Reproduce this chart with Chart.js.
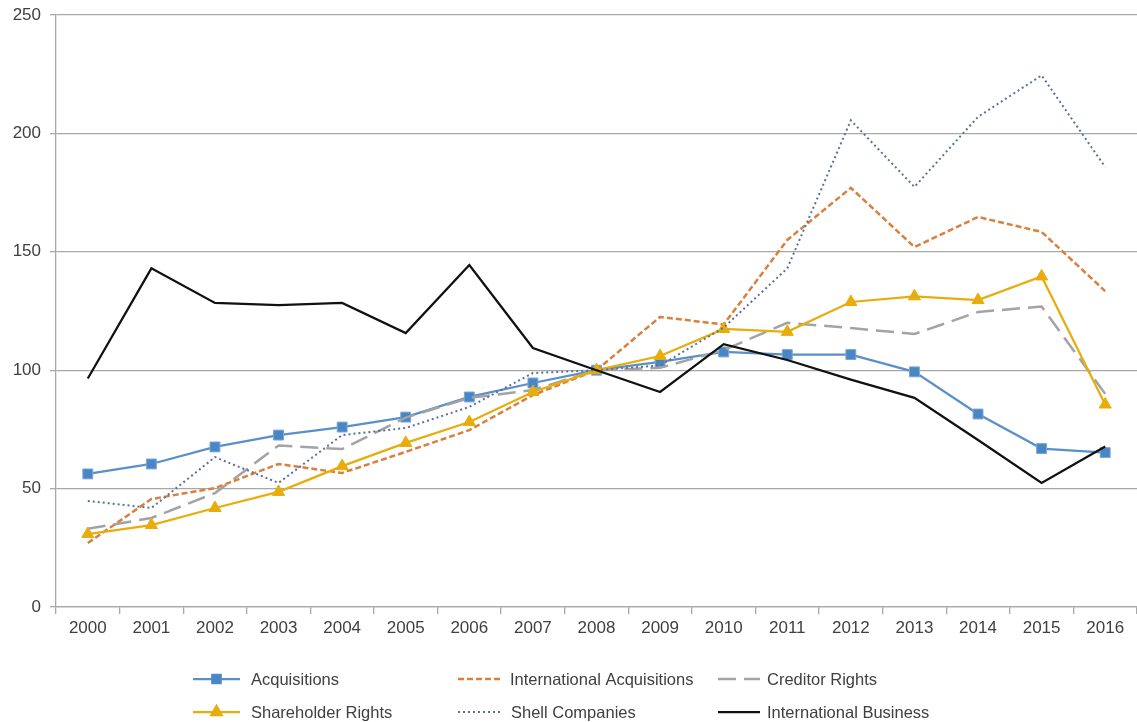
<!DOCTYPE html>
<html>
<head>
<meta charset="utf-8">
<script src="https://cdn.jsdelivr.net/npm/chart.js@4.4.1/dist/chart.umd.min.js"></script>
<style>
  html, body { margin: 0; padding: 0; background: #fff; overflow: hidden; }
  #myChart { display: block; }
</style>
</head>
<body>
<canvas id="myChart" width="1137" height="722"></canvas>
<script>
const years = ['2000','2001','2002','2003','2004','2005','2006','2007','2008','2009','2010','2011','2012','2013','2014','2015','2016'];

const acquisitions = [56.2, 60.4, 67.6, 72.6, 76, 80.2, 88.7, 94.6, 100, 103.5, 107.7, 106.6, 106.6, 99.3, 81.5, 66.9, 65.2];
const intlAcquisitions = [27, 45.6, 50.2, 60.4, 56.6, 65.5, 74.7, 89.5, 100, 122.5, 119.3, 155, 177, 152, 164.7, 158.4, 133.4];
const creditorRights = [33, 37.6, 48.1, 68.2, 66.7, 80, 88.3, 91.6, 100, 101, 108.5, 120, 117.8, 115.3, 124.6, 126.9, 90];
const shareholderRights = [30.8, 34.6, 41.8, 48.6, 59.5, 69.3, 78.1, 90.8, 100, 106, 117.4, 116.2, 128.8, 131.2, 129.6, 139.6, 85.5];
const shellCompanies = [44.8, 41.8, 63.3, 52.4, 72.6, 75.6, 84.5, 98.8, 100, 102, 118, 143, 205.5, 177.4, 207, 224.5, 185.8];
const intlBusiness = [96.5, 143, 128.4, 127.5, 128.4, 115.7, 144.4, 109.4, 100, 90.8, 111, 104.3, 96, 88.3, 70.5, 52.4, 67.8];

const yTicks = [0, 50, 100, 150, 200, 250];

// legend slots: [line start x, line end x, text x, center y]
const legendSlots = [
  [193, 240, 251, 679],
  [458, 503, 510, 679],
  [718, 760, 767, 679],
  [193, 240, 251, 712],
  [458, 503, 511, 712],
  [718, 760, 767, 712]
];

const gridColor = '#a8a8a8';
const textColor = '#404040';
const fontFamily = '"Liberation Sans", Arial, sans-serif';

function noPadding(scale) {
  scale.paddingLeft = 0;
  scale.paddingRight = 0;
  scale.paddingTop = 0;
  scale.paddingBottom = 0;
}

const sideLegend = {
  id: 'sideLegend',
  afterDraw(chart) {
    const ctx = chart.ctx;
    chart.data.datasets.forEach((ds, i) => {
      const [x1, x2, tx, y] = legendSlots[i];
      ctx.save();
      ctx.strokeStyle = ds.borderColor;
      ctx.lineWidth = ds.borderWidth;
      ctx.setLineDash(ds.borderDash || []);
      ctx.beginPath();
      ctx.moveTo(x1, y);
      ctx.lineTo(x2, y);
      ctx.stroke();
      ctx.setLineDash([]);
      if (ds.pointRadius > 0) {
        Chart.helpers.drawPoint(ctx, {
          pointStyle: ds.pointStyle,
          radius: ds.pointRadius - 1,
          borderWidth: 1
        }, (x1 + x2) / 2, y);
        ctx.fillStyle = ds.pointBackgroundColor;
        ctx.strokeStyle = ds.pointBorderColor;
        ctx.fill();
      }
      ctx.fillStyle = textColor;
      ctx.font = '16.5px ' + fontFamily;
      ctx.textBaseline = 'middle';
      ctx.textAlign = 'left';
      ctx.fillText(ds.label, tx, y + 1);
      ctx.restore();
    });
  }
};

window.addEventListener('load', function () {
  const ctx = document.getElementById('myChart');
  new Chart(ctx, {
    type: 'line',
    data: {
      labels: years,
      datasets: [
        {
          label: 'Acquisitions',
          data: acquisitions,
          borderColor: '#5a8fc8',
          borderWidth: 2.25,
          pointStyle: 'rect',
          pointRadius: 7,
          pointBackgroundColor: '#4a86c6',
          pointBorderColor: '#7aa6d8',
          pointBorderWidth: 1,
          order: 6
        },
        {
          label: 'International Acquisitions',
          data: intlAcquisitions,
          borderColor: '#d9803f',
          borderWidth: 2.5,
          borderDash: [6, 3],
          pointRadius: 0,
          order: 5
        },
        {
          label: 'Creditor Rights',
          data: creditorRights,
          borderColor: '#a3a3a3',
          borderWidth: 2.5,
          borderDash: [18, 8],
          pointRadius: 0,
          order: 4
        },
        {
          label: 'Shareholder Rights',
          data: shareholderRights,
          borderColor: '#e8ad0c',
          borderWidth: 2.25,
          pointStyle: 'triangle',
          pointRadius: 7,
          pointBackgroundColor: '#e8ad0c',
          pointBorderColor: '#e8ad0c',
          pointBorderWidth: 1,
          order: 3
        },
        {
          label: 'Shell Companies',
          data: shellCompanies,
          borderColor: '#5d7098',
          borderWidth: 2,
          borderDash: [2, 3],
          pointRadius: 0,
          order: 2
        },
        {
          label: 'International Business',
          data: intlBusiness,
          borderColor: '#111111',
          borderWidth: 2.25,
          pointRadius: 0,
          order: 1
        }
      ]
    },
    options: {
      responsive: false,
      animation: false,
      layout: { autoPadding: false, padding: { top: 15, right: 0, bottom: 70, left: 0 } },
      plugins: {
        legend: { display: false },
        tooltip: { enabled: false }
      },
      scales: {
        x: {
          offset: true,
          grid: {
            offset: true,
            drawOnChartArea: false,
            drawTicks: true,
            tickLength: 7,
            color: gridColor,
            lineWidth: 1.3
          },
          border: { color: gridColor, width: 1.3 },
          ticks: {
            color: textColor,
            font: { size: 17, family: fontFamily },
            padding: 4,
            maxRotation: 0,
            autoSkip: false
          },
          afterFit(scale) {
            scale.height = 45;
            noPadding(scale);
          }
        },
        y: {
          min: 0,
          max: 250,
          afterBuildTicks(scale) {
            scale.ticks = yTicks.map(v => ({ value: v }));
          },
          grid: {
            color: gridColor,
            lineWidth: 1.3,
            tickLength: 6
          },
          border: { color: gridColor, width: 1.3 },
          ticks: {
            color: textColor,
            font: { size: 17, family: fontFamily },
            padding: 9
          },
          afterFit(scale) {
            scale.width = 56;
            noPadding(scale);
          }
        }
      }
    },
    plugins: [sideLegend]
  });
});
</script>
</body>
</html>
